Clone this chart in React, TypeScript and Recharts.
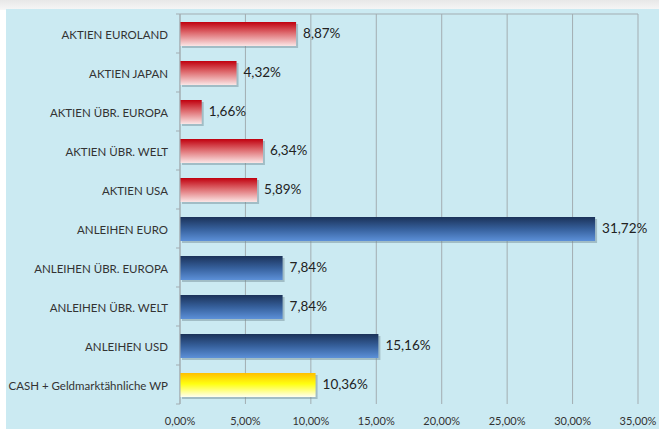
import React from 'react';
import { BarChart, Bar, XAxis, YAxis, CartesianGrid, Cell, LabelList } from 'recharts';

const categories = [
  'AKTIEN EUROLAND',
  'AKTIEN JAPAN',
  'AKTIEN ÜBR. EUROPA',
  'AKTIEN ÜBR. WELT',
  'AKTIEN USA',
  'ANLEIHEN EURO',
  'ANLEIHEN ÜBR. EUROPA',
  'ANLEIHEN ÜBR. WELT',
  'ANLEIHEN USD',
  'CASH + Geldmarktähnliche WP',
];
const values = [8.87, 4.32, 1.66, 6.34, 5.89, 31.72, 7.84, 7.84, 15.16, 10.36];
const groups = ['red', 'red', 'red', 'red', 'red', 'blue', 'blue', 'blue', 'blue', 'yellow'];
const xTicks = [0, 5, 10, 15, 20, 25, 30, 35];

const data = categories.map((name, i) => ({ name, value: values[i], group: groups[i] }));

const pct = (v: number, digits = 2) => v.toFixed(digits).replace('.', ',') + '%';

const FONT = 'Lato, "Open Sans", sans-serif';
const GRID = '#a3adb2';

function BarShape(props: any) {
  const { x, y, width, height, fill } = props;
  if (!width || width <= 0) return null;
  return (
    <g>
      <rect x={x + 2} y={y + 3} width={width} height={height - 1} fill="#6f8791" opacity={0.45} />
      <rect x={x} y={y + 1} width={width} height={height - 1} fill={fill} />
    </g>
  );
}

function CategoryTick(props: any) {
  const { x, y, payload, index, visibleTicksCount } = props;
  const half = 19.5;
  return (
    <g>
      <line x1={x + 8} x2={x + 12} y1={y - half} y2={y - half} stroke={GRID} />
      {index === visibleTicksCount - 1 && (
        <line x1={x + 8} x2={x + 12} y1={y + half} y2={y + half} stroke={GRID} />
      )}
      <text x={x} y={y + 1} textAnchor="end" dominantBaseline="central" fontSize={11.5} fontFamily={FONT} fill="#333">
        {payload.value}
      </text>
    </g>
  );
}

export default function App() {
  return (
    <div style={{ position: 'absolute', left: 0, top: 0, width: 659, height: 429, background: '#fff', overflow: 'hidden' }}>
      <div style={{ position: 'absolute', left: 0, top: 0, width: 659, height: 10, background: 'linear-gradient(#e8e8e8, #f7f7f7)' }} />
      <div style={{ position: 'absolute', left: 6, top: 9, width: 653, height: 420, background: '#cbeaf2' }} />
      <div style={{ position: 'absolute', left: 0, top: 0 }}>
        <BarChart
          width={659}
          height={429}
          data={data}
          layout="vertical"
          margin={{ top: 14, right: 21, bottom: 0, left: 0 }}
          barCategoryGap="33%"
        >
          <defs>
            <linearGradient id="gRed" x1="0" y1="0" x2="0" y2="1">
              <stop offset="0%" stopColor="#c0000e" />
              <stop offset="45%" stopColor="#de6a6e" />
              <stop offset="100%" stopColor="#fbe6e6" />
            </linearGradient>
            <linearGradient id="gBlue" x1="0" y1="0" x2="0" y2="1">
              <stop offset="0%" stopColor="#1b3259" />
              <stop offset="50%" stopColor="#36609c" />
              <stop offset="100%" stopColor="#5c90d8" />
            </linearGradient>
            <linearGradient id="gYellow" x1="0" y1="0" x2="0" y2="1">
              <stop offset="0%" stopColor="#ffbf00" />
              <stop offset="45%" stopColor="#ffff10" />
              <stop offset="100%" stopColor="#fffff0" />
            </linearGradient>
          </defs>
          <CartesianGrid vertical stroke={GRID} horizontalPoints={[14]} />
          <XAxis
            type="number"
            domain={[0, 35]}
            ticks={xTicks}
            tickFormatter={(v: number) => pct(v)}
            axisLine={false}
            tickLine={false}
            tickSize={0}
            tickMargin={13}
            height={25}
            interval={0}
            tick={{ fontSize: 11, fontFamily: FONT, fill: '#333' }}
          />
          <YAxis
            type="category"
            dataKey="name"
            width={180}
            axisLine={{ stroke: GRID }}
            tickLine={false}
            tickSize={6}
            tickMargin={6}
            interval={0}
            tick={<CategoryTick />}
          />
          <Bar dataKey="value" barSize={25} shape={<BarShape />} isAnimationActive={false}>
            {data.map((d, i) => (
              <Cell
                key={i}
                fill={d.group === 'red' ? 'url(#gRed)' : d.group === 'blue' ? 'url(#gBlue)' : 'url(#gYellow)'}
              />
            ))}
            <LabelList
              dataKey="value"
              position="right"
              offset={7}
              formatter={(v: any) => pct(Number(v))}
              style={{ fontSize: 13.5, fontFamily: FONT, fill: '#222' }}
            />
          </Bar>
        </BarChart>
      </div>
    </div>
  );
}
